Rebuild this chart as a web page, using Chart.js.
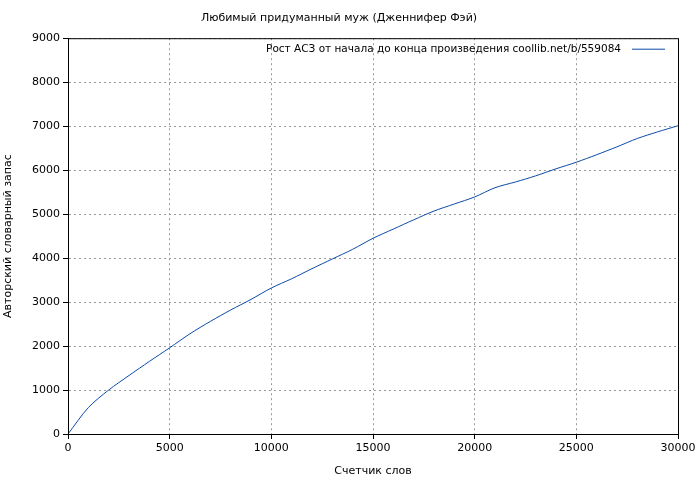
<!DOCTYPE html>
<html>
<head>
<meta charset="utf-8">
<script src="https://cdn.jsdelivr.net/npm/chart.js@4"></script>
<style>
  html, body { margin: 0; padding: 0; background: #fff; }
  #wrap { width: 700px; height: 480px; }
</style>
</head>
<body>
<div id="wrap"><canvas id="c" width="700" height="480"></canvas></div>
<script>
const titleText = 'Любимый придуманный муж (Дженнифер Фэй)';
const seriesLabel = 'Рост АСЗ от начала до конца произведения coollib.net/b/559084';
const words = [0, 1000, 2000, 3000, 4000, 5000, 6000, 7000, 8000, 9000, 10000, 11000, 12000, 13000, 14000, 15000,
  16000, 17000, 18000, 19000, 20000, 21000, 22000, 23000, 24000, 25000, 26000, 27000, 28000, 29000, 30000];
const vocab = [0, 600, 1000, 1330, 1650, 1960, 2280, 2560, 2820, 3060, 3320, 3530, 3760, 3980, 4200, 4450,
  4660, 4870, 5070, 5230, 5390, 5600, 5730, 5870, 6030, 6180, 6350, 6530, 6720, 6870, 7010];
const lineColor = '#0b4aa8';
const font = { family: 'DejaVu Sans', size: 11, weight: 'normal' };

// legend drawn inside the plot, gnuplot-style
const insideLegend = {
  id: 'insideLegend',
  afterDraw(chart) {
    const { ctx, chartArea } = chart;
    ctx.save();
    ctx.font = '10.5px DejaVu Sans';
    ctx.fillStyle = '#000';
    ctx.textAlign = 'right';
    ctx.textBaseline = 'middle';
    const y = chartArea.top + 11;
    ctx.fillText(seriesLabel, chartArea.right - 57, y);
    ctx.strokeStyle = lineColor;
    ctx.lineWidth = 1;
    ctx.beginPath();
    ctx.moveTo(chartArea.right - 46, y);
    ctx.lineTo(chartArea.right - 13, y);
    ctx.stroke();
    ctx.restore();
  }
};

new Chart(document.getElementById('c'), {
  type: 'scatter',
  data: {
    datasets: [{
      label: seriesLabel,
      data: words.map((w, i) => ({ x: w, y: vocab[i] })),
      showLine: true,
      borderColor: lineColor,
      borderWidth: 1,
      pointRadius: 0,
      tension: 0.3,
    }],
  },
  options: {
    responsive: false, animation: false,
    layout: { padding: { right: 22, left: 0, top: 0, bottom: 0 } },
    plugins: {
      legend: { display: false },
      tooltip: { enabled: false },
      title: { display: true, text: titleText, color: '#000', font, padding: { top: 12, bottom: 13 } },
    },
    scales: {
      x: {
        type: 'linear', min: 0, max: 30000,
        ticks: { stepSize: 5000, color: '#000', font, maxRotation: 0, callback: v => String(v) },
        grid: { color: '#999', tickColor: '#000', tickLength: 5 },
        border: { color: '#000', dash: [2, 3] },
        title: { display: true, text: 'Счетчик слов', color: '#000', font, padding: 2 },
        afterFit(s) { s.height = 46; },
      },
      y: {
        min: 0, max: 9000,
        ticks: { stepSize: 1000, color: '#000', font, callback: v => String(v) },
        grid: { color: '#999', tickColor: '#000', tickLength: 5 },
        border: { color: '#000', dash: [2, 3] },
        title: { display: true, text: 'Авторский словарный запас', color: '#000', font, padding: 2 },
        afterFit(s) { s.width = 68; },
      },
    },
  },
  plugins: [insideLegend, {
    id: 'frame',
    afterDraw(chart) {
      const { ctx, chartArea: a } = chart;
      ctx.save();
      ctx.strokeStyle = '#000';
      ctx.lineWidth = 1;
      ctx.strokeRect(a.left + 0.5, a.top + 0.5, a.right - a.left, a.bottom - a.top);
      ctx.restore();
    }
  }],
});
</script>
</body>
</html>
